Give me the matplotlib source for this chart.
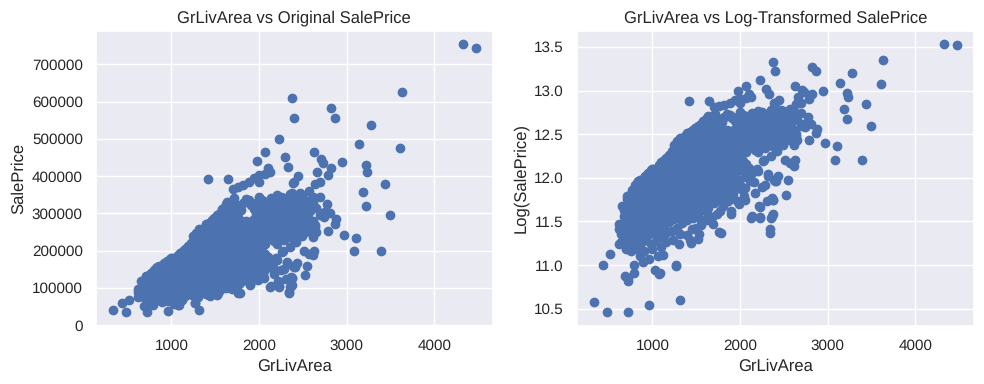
import numpy as np
import matplotlib
matplotlib.use("Agg")
import matplotlib.pyplot as plt
import seaborn as sns

# Sparse points at the upper right
upper_area = [4322, 4476, 3627, 2824, 2870, 3282, 3144, 3613, 2950, 2630, 2710, 2733, 2824, 3225, 3236,
              2664, 2790, 3442, 2699, 2642, 3190, 3225, 2699, 2779, 3499, 2813, 2882, 2870, 2790, 2973,
              3110, 3087, 3396, 2642, 2653, 2619, 2516, 2516, 2630, 2573, 2619, 2550, 2436, 2413, 2527,
              2379, 2367, 2573, 2447, 2390, 2466, 2371, 2394, 2230, 2070, 1979, 2299, 2333, 2097, 2127,
              1419, 1647, 2394, 2470, 2590, 2760, 2530, 2690, 2440, 2620, 2560, 2480, 2740, 2650, 2400]
upper_price = [755000, 745000, 625000, 582000, 555000, 538000, 485000, 475000, 438000, 465000, 446000, 435000,
               423000, 430000, 410000, 410000, 402000, 378000, 385000, 378000, 358000, 320000, 343000, 325000,
               295000, 300000, 285000, 271000, 252000, 243000, 233000, 200000, 200000, 268000, 250000, 236000,
               251000, 200000, 200000, 192000, 187000, 158000, 166000, 157000, 134000, 126000, 105000, 359000,
               399000, 382000, 354000, 611000, 555000, 501000, 465000, 440000, 451000, 425000, 423000, 412000,
               392000, 392000, 383000, 330000, 325000, 305000, 300000, 295000, 285000, 280000, 270000, 262000,
               290000, 315000, 345000]

# Sparse points at the low end and along the lower edge of the cloud
lower_area = [334, 438, 520, 480, 720, 962, 1317, 686, 721, 790, 790, 858, 893, 962, 1030, 1088, 1065, 1122,
              1271, 617, 721, 767, 617, 617, 652, 705, 839, 992, 1202, 1260, 1317, 1459, 1623, 1719, 1852,
              1967, 1298, 1432, 1527, 1764, 1692, 1902, 1776, 2131, 2227, 2338, 2372, 2215, 2120, 2273, 2197,
              2319, 1967, 2044, 2311, 2369, 2254, 2388, 660, 1550, 1640, 1850, 2010, 2170, 2280]
lower_price = [39300, 60000, 68000, 34900, 35000, 37900, 40000, 52500, 51700, 54800, 60000, 66300, 61700, 64000,
               56300, 54800, 66300, 67500, 60000, 76000, 72300, 74700, 90000, 95800, 118200, 132000, 156000,
               181000, 208000, 238000, 257000, 282000, 324000, 340000, 332000, 310000, 76000, 80000, 85000,
               87000, 96000, 111000, 111000, 105000, 104000, 90000, 108000, 118000, 156000, 200000, 180000,
               169000, 124000, 132000, 124000, 129000, 147000, 159000, 84000, 100000, 106000, 124000, 143000,
               137000, 150000]

# Points read from the right-hand part of the cloud and its lower fringe
fringe_area = [2611, 2504, 2390, 2581, 2714, 2504, 2390, 2638, 2523, 2409, 2352, 2428, 2371, 2619, 2523, 2447,
               2562, 2447, 2127, 2222, 2337, 2356, 2222, 2051, 2108, 2203, 2318, 2260, 2394, 2375, 1899, 1777,
               1518, 1441, 1270, 1079, 718]
fringe_price = [327000, 318000, 331000, 305000, 300000, 282000, 278000, 264000, 251000, 246000, 238000, 345000,
                354000, 345000, 336000, 309000, 287000, 264000, 103000, 103000, 86000, 103000, 117000, 126000,
                157000, 175000, 166000, 197000, 157000, 126000, 108000, 86000, 81000, 77000, 59000, 54000, 50000]

# Lower and left edge of the cloud
edge_area = [640, 660, 680, 640, 700, 760, 820, 900, 1000, 1100, 1150, 1230, 1310, 1390, 1450, 1500, 1560, 1620,
             1680, 1740, 1800, 1860, 1920, 1990, 2060, 1350, 1430, 1510, 1590, 1670, 1750, 1830, 1910, 1990,
             2080, 2160]
edge_price = [85000, 92000, 105000, 78000, 72000, 70000, 72000, 70000, 72000, 74000, 78000, 80000, 85000, 84000,
              90000, 92000, 95000, 100000, 104000, 108000, 118000, 125000, 135000, 120000, 145000, 100000,
              106000, 113000, 118000, 125000, 132000, 142000, 148000, 158000, 165000, 155000]

# Dense central cloud, one list of prices for each living-area column
core_area = [680, 740, 800, 860, 920, 980, 1040, 1100, 1160, 1220, 1280, 1340, 1400, 1460, 1520, 1580, 1640,
             1700, 1760, 1820, 1880, 1940, 2000, 2070, 2140, 2210, 2280, 2350, 2420, 2490, 2560]
core_prices = [
    [82000, 98000, 112000],
    [78000, 92000, 106000, 121000, 134000],
    [76000, 88000, 103000, 118000, 133000, 149000],
    [74000, 86000, 99000, 113000, 128000, 143000, 158000],
    [80000, 92000, 107000, 122000, 137000, 152000, 167000],
    [76000, 90000, 104000, 119000, 135000, 150000, 166000, 178000],
    [79000, 95000, 112000, 128000, 145000, 162000, 177000],
    [83000, 99000, 116000, 133000, 150000, 167000, 185000, 194000],
    [86000, 104000, 121000, 139000, 157000, 175000, 192000, 205000],
    [88000, 108000, 127000, 146000, 165000, 184000, 203000, 220000],
    [92000, 112000, 132000, 152000, 172000, 192000, 212000, 232000, 248000],
    [97000, 118000, 139000, 160000, 181000, 202000, 223000, 244000, 256000],
    [100000, 122000, 144000, 166000, 188000, 210000, 232000, 254000, 272000],
    [103000, 126000, 149000, 172000, 195000, 218000, 241000, 264000, 280000],
    [108000, 131000, 155000, 179000, 203000, 227000, 251000, 275000, 295000],
    [112000, 136000, 160000, 185000, 210000, 235000, 260000, 285000, 312000],
    [115000, 140000, 165000, 191000, 217000, 243000, 269000, 295000, 330000],
    [122000, 148000, 174000, 200000, 226000, 252000, 278000, 304000, 335000, 365000],
    [128000, 155000, 182000, 209000, 236000, 263000, 290000, 318000, 372000],
    [135000, 160000, 188000, 216000, 244000, 272000, 328000, 375000],
    [130000, 165000, 193000, 221000, 249000, 277000, 335000, 385000],
    [145000, 172000, 200000, 228000, 256000, 284000, 312000, 395000],
    [150000, 178000, 206000, 234000, 262000, 290000, 318000, 345000, 385000, 402000],
    [165000, 190000, 218000, 246000, 274000, 302000, 330000, 405000],
    [172000, 232000, 260000, 288000, 316000, 342000],
    [218000, 245000, 272000, 300000, 326000, 350000],
    [228000, 255000, 282000, 310000, 340000],
    [210000, 238000, 264000, 292000, 322000, 352000],
    [222000, 275000, 302000, 335000],
    [238000, 262000, 290000, 318000, 350000],
    [252000, 280000, 308000],
]

# Points between those columns, which fill the cloud solid
fill_area = [710, 770, 830, 890, 950, 1010, 1070, 1130, 1190, 1250, 1310, 1370, 1430, 1490, 1550, 1610, 1670,
             1730, 1790, 1850, 1910, 1970, 2035, 2105, 2175, 2245, 2315, 2385, 2455]
fill_prices = [
    [88000, 104000, 116000, 128000],
    [83000, 97000, 112000, 127000, 141000],
    [81000, 94000, 108000, 123000, 138000, 153000],
    [79000, 92000, 106000, 120000, 135000, 150000, 160000],
    [84000, 98000, 113000, 129000, 144000, 159000, 172000],
    [86000, 102000, 120000, 136000, 153000, 169000, 180000],
    [88000, 106000, 124000, 141000, 158000, 176000, 188000],
    [93000, 111000, 129000, 147000, 165000, 183000, 200000],
    [98000, 117000, 136000, 155000, 174000, 193000, 212000],
    [101000, 122000, 142000, 162000, 182000, 202000, 222000, 238000],
    [107000, 128000, 149000, 170000, 191000, 212000, 233000, 250000],
    [111000, 133000, 155000, 177000, 199000, 221000, 243000, 262000],
    [113000, 137000, 160000, 183000, 206000, 229000, 252000, 275000],
    [118000, 143000, 167000, 191000, 215000, 239000, 263000, 287000],
    [124000, 148000, 172000, 197000, 222000, 247000, 272000, 300000],
    [128000, 152000, 178000, 204000, 230000, 256000, 282000, 318000],
    [132000, 158000, 183000, 213000, 239000, 265000, 291000, 322000],
    [136000, 165000, 192000, 218000, 245000, 271000, 297000, 325000],
    [143000, 170000, 198000, 225000, 253000, 280000, 308000],
    [148000, 178000, 205000, 233000, 261000, 280000, 338000],
    [158000, 183000, 211000, 239000, 267000, 323000],
    [160000, 190000, 218000, 246000, 274000, 302000, 328000],
    [176000, 198000, 226000, 254000, 282000, 310000, 336000],
    [183000, 240000, 268000, 296000, 324000],
    [225000, 252000, 280000, 308000, 338000],
    [235000, 262000, 290000, 318000, 345000],
    [246000, 272000, 300000, 330000],
    [232000, 284000, 312000, 342000],
    [268000, 296000, 328000],
]

gr_liv_area = np.array(upper_area + lower_area + fringe_area + edge_area
                       + [a for a, ps in zip(core_area, core_prices) for _ in ps]
                       + [a for a, ps in zip(fill_area, fill_prices) for _ in ps], float)
sale_price = np.array(upper_price + lower_price + fringe_price + edge_price
                      + [p for ps in core_prices for p in ps]
                      + [p for ps in fill_prices for p in ps], float)
log_price = np.log1p(sale_price)

sns.set_theme()
plt.rcParams["font.family"] = ["Liberation Sans", "DejaVu Sans"]
plt.rcParams["text.hinting"] = "none"

W, H = 984, 384
fig = plt.figure(figsize=(W / 100, H / 100), dpi=100)
top, bottom = 30.5, 325.5


def axes_px(left, right):
    return fig.add_axes([left / W, 1 - bottom / H, (right - left) / W, (bottom - top) / H])


ax1 = axes_px(96, 492.5)
ax1.scatter(gr_liv_area, sale_price)
ax1.set_xlim(140, 4663)
ax1.set_title("GrLivArea vs Original SalePrice")
ax1.set_xlabel("GrLivArea")
ax1.set_ylabel("SalePrice")
ax1.set_yticks([0, 100000, 200000, 300000, 400000, 500000, 600000, 700000])

ax2 = axes_px(577, 973.5)
ax2.scatter(gr_liv_area, log_price)
ax2.set_xlim(140, 4663)
ax2.set_title("GrLivArea vs Log-Transformed SalePrice")
ax2.set_xlabel("GrLivArea")
ax2.set_ylabel("Log(SalePrice)")

fig.savefig("out.png", dpi=100)
